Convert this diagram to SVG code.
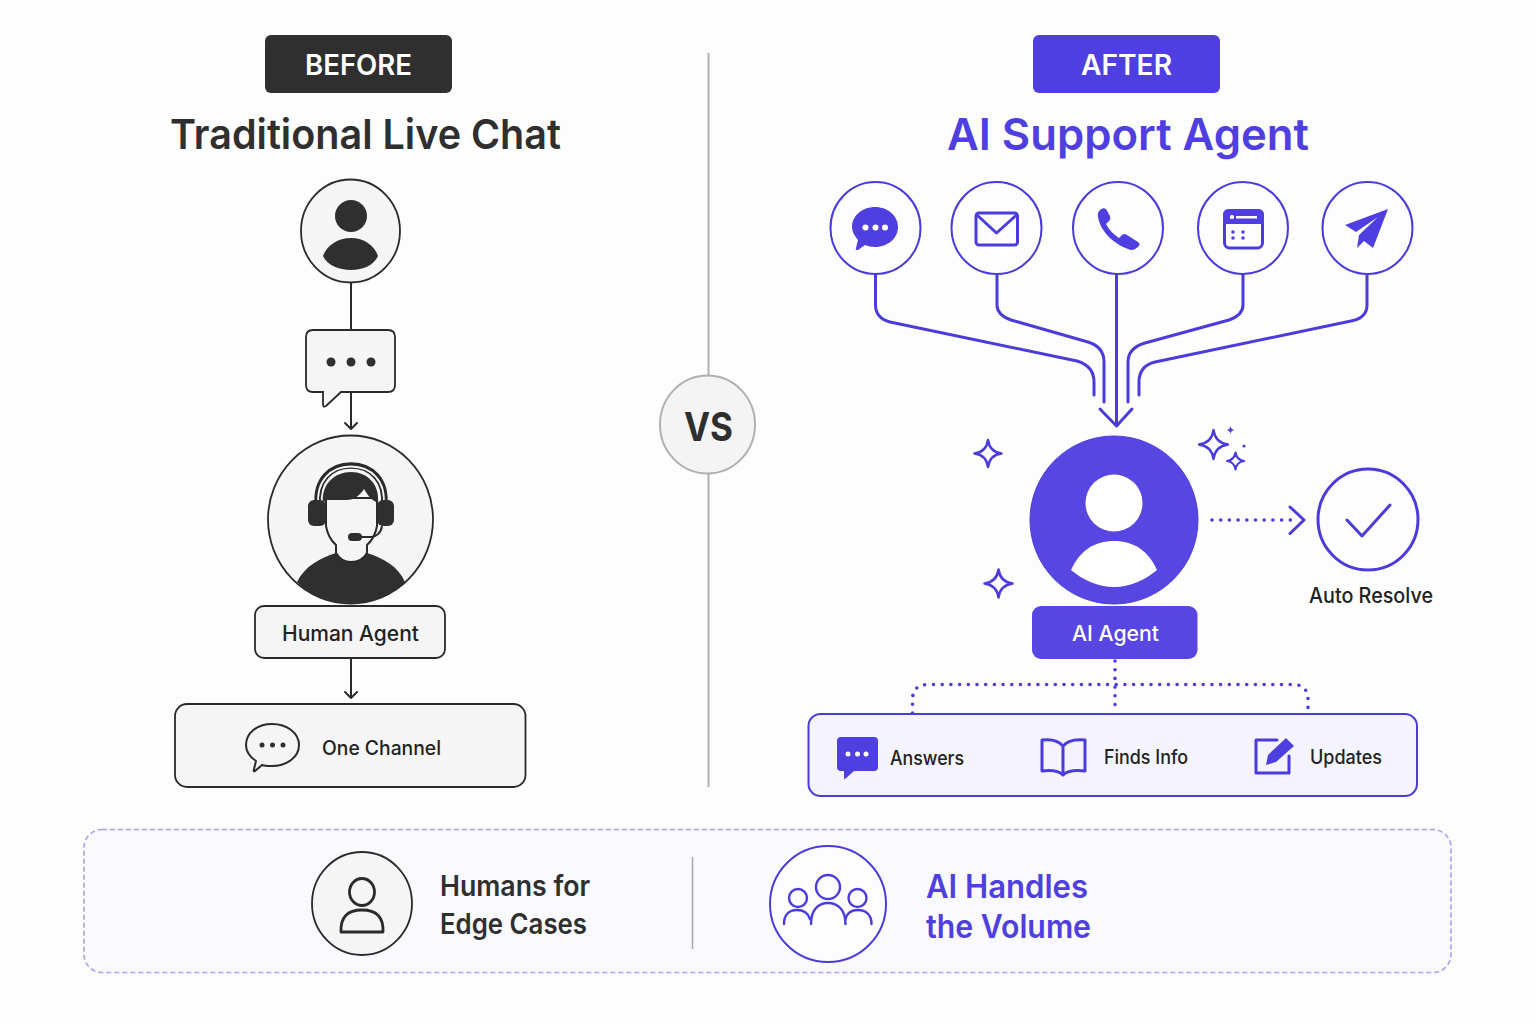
<svg xmlns="http://www.w3.org/2000/svg" width="1536" height="1024" viewBox="0 0 1536 1024">
<style>
text{font-family:"Inter","Liberation Sans",sans-serif;font-weight:500}
.dk{fill:#2f2f2f}.pu{fill:#4f3fe0}.wh{fill:#fff}
.lg{fill:#f5f5f5;stroke:#2a2a2a;stroke-width:1.8}
.wc{fill:#fdfdff;stroke:#4a3cdc;stroke-width:2}
.pl{fill:none;stroke:#4a3cdc;stroke-width:3;stroke-linecap:round;stroke-linejoin:round}
.dl{fill:none;stroke:#2a2a2a;stroke-width:2;stroke-linecap:round;stroke-linejoin:round}
.dot{fill:none;stroke:#4a3cdc;stroke-width:3.600;stroke-linecap:round;stroke-dasharray:0 8.7}
.star{fill:#fdfdff;stroke:#4a3cdc;stroke-width:2.4;stroke-linejoin:round}
.m{text-anchor:middle}
</style>
<defs>
<path id="star" d="M0 -1 Q0.12 -0.12 1 0 Q0.12 0.12 0 1 Q-0.12 0.12 -1 0 Q-0.12 -0.12 0 -1Z"/>
</defs>
<rect width="1536" height="1024" fill="#fdfdfe"/>

<g id="divider">
<path d="M708.5 53V375M708.5 474V787" stroke="#b0b0b0" stroke-width="2" fill="none"/>
</g>
<g id="vs">
<ellipse cx="707.5" cy="424.500" rx="47.500" ry="49" fill="#f4f4f4" stroke="#b0b0b0" stroke-width="2"/>
<text x="684" y="441" font-size="40" class="dk" textLength="49" lengthAdjust="spacingAndGlyphs" style="font-weight:700">VS</text>
</g>

<g id="before-header">
<rect x="265" y="35" width="187" height="58" rx="6" fill="#2f2f2f"/>
<text x="305" y="75" font-size="28" class="wh" textLength="107" lengthAdjust="spacingAndGlyphs" style="font-weight:600">BEFORE</text>
<text x="170" y="149" font-size="41" class="dk" textLength="391" lengthAdjust="spacingAndGlyphs" style="font-weight:600">Traditional Live Chat</text>
</g>
<g id="after-header">
<rect x="1033" y="35" width="187" height="58" rx="6" fill="#4f3fe0"/>
<text x="1081" y="75" font-size="28" class="wh" textLength="91" lengthAdjust="spacingAndGlyphs" style="font-weight:600">AFTER</text>
<text x="947" y="150" font-size="44" class="pu" textLength="362" lengthAdjust="spacingAndGlyphs" style="font-weight:600">AI Support Agent</text>
</g>

<g id="connectors">
<path class="dl" d="M351 283V330"/>
<path class="dl" d="M351 392V429M345 423L351 429L357 423"/>
<path class="dl" d="M351 658V698M345 692L351 698L357 692"/>
<path class="pl" d="M875.500 274V305Q875.500 318 890 322L1077 361Q1094 366 1094 382V395"/>
<path class="pl" d="M997 274V305Q997 315 1011 320L1088 342Q1104 347 1104 362V402"/>
<path class="pl" d="M1116.500 274V425M1100 409L1116.500 426L1132 409"/>
<path class="pl" d="M1243 274V305Q1243 315 1229 320L1145 343Q1128 348 1128 362V402"/>
<path class="pl" d="M1367 274V305Q1367 318 1351 321L1155 362Q1139 366 1139 382V395"/>
<path class="dot" d="M1212 520H1296"/>
<path class="pl" d="M1290 507L1304 520L1290 533.500"/>
<path class="dot" d="M1115 661V713M912.500 713V700Q912.500 684.500 928 684.500H1293Q1308 684.500 1308 700V713"/>
</g>

<g id="customer">
<ellipse class="lg" cx="350.500" cy="231" rx="49.500" ry="51.500"/>
<circle class="dk" cx="351" cy="216" r="16"/>
<path class="dk" d="M323 256C327 245 338 238 351 238C364 238 374 245 378 256C374 265 363 270 351 270C339 270 327 265 323 256Z"/>
</g>

<g id="message">
<path class="lg" d="M313 330H388Q395 330 395 337V385Q395 392 388 392H341L326 406Q323 408 323 404V392H313Q306 392 306 385V337Q306 330 313 330Z"/>
<circle class="dk" cx="331" cy="362" r="4.500"/><circle class="dk" cx="351" cy="362" r="4.500"/><circle class="dk" cx="371" cy="362" r="4.500"/>
</g>

<g id="human-agent">
<ellipse class="lg" cx="350.500" cy="519.500" rx="82.500" ry="84"/>
<path class="dk" d="M297 582C305 566 320 558 336 553C340 560 346 562 351 562C357 562 363 560 367 553C383 558 398 566 405 582C392 596 372 603 351 603C330 603 310 596 297 582Z"/>
<path fill="#f5f5f5" stroke="#2a2a2a" stroke-width="2" d="M326 498V526Q328 538 336 545V553C340 560 346 562 351 562C357 562 363 560 367 553V545Q375 538 377 526V498Z"/>
<path fill="none" stroke="#2a2a2a" stroke-width="6.500" d="M318 506C315 480 331 465.500 351 465.500C371 465.500 387 480 384 506"/>
<path fill="none" stroke="#f5f5f5" stroke-width="1.800" d="M318.500 506C315.500 481 331 466.500 351 466.500C371 466.500 386.500 481 383.500 506"/>
<path class="dk" d="M323 503C321 484 335 472 351 472C367 472 380 484 378 503L376 502C370 499 368 495 364 489C360 495 355 500 346 500H326Z"/>
<rect class="dk" x="308" y="500" width="18" height="26" rx="6"/>
<rect class="dk" x="377" y="500" width="17" height="26" rx="6"/>
<path fill="none" stroke="#2a2a2a" stroke-width="2" d="M382 526C381 533 376 537 371 537H358"/>
<rect class="dk" x="348" y="533" width="14" height="8" rx="4"/>
</g>

<g id="human-agent-label">
<rect class="lg" x="255" y="606" width="190" height="52" rx="9"/>
<text x="282" y="641" font-size="21" fill="#222" textLength="137" lengthAdjust="spacingAndGlyphs">Human Agent</text>
</g>

<g id="one-channel">
<rect class="lg" x="175" y="704" width="350.500" height="83" rx="12"/>
<path class="dl" d="M272 724C287 724 299 733 299 745C299 757 287 766 272 766C268 766 265 766 262 765L255 771Q253 772 254 769L256 761C250 757 246 752 246 745C246 733 257 724 272 724Z"/>
<circle class="dk" cx="262" cy="745" r="2.500"/><circle class="dk" cx="272.500" cy="745" r="2.500"/><circle class="dk" cx="283" cy="745" r="2.500"/>
<text x="322" y="755" font-size="20" fill="#222" textLength="119" lengthAdjust="spacingAndGlyphs">One Channel</text>
</g>

<g id="channel-chat">
<ellipse class="wc" cx="875.500" cy="228" rx="45" ry="46"/>
<path class="pu" d="M875 207C888 207 898 216 898 227C898 238 888 247 875 247C871 247 868 246 865 245L858 250Q855 250 856 248L858 240C855 236 852 232 852 227C852 216 862 207 875 207Z"/>
<circle class="wh" cx="865.500" cy="227.500" r="3"/><circle class="wh" cx="875.500" cy="227.500" r="3"/><circle class="wh" cx="885" cy="227.500" r="3"/>
</g>
<g id="channel-mail">
<ellipse class="wc" cx="996.500" cy="228" rx="45" ry="46"/>
<rect class="pl" x="976" y="213" width="41.500" height="32" rx="3"/>
<path class="pl" d="M977 215L996.500 233L1016.500 215"/>
</g>
<g id="channel-phone">
<ellipse class="wc" cx="1118" cy="228" rx="45" ry="46"/>
<path class="pu" d="M1100 210Q1103 207 1106 209L1110 216Q1111 219 1109 221L1106 224Q1110 232 1119 238L1122 235Q1124 233 1127 235L1138 242Q1141 244 1138 247L1135 249Q1132 251 1128 249C1112 243 1100 230 1098 217Q1097 213 1100 210Z"/>
</g>
<g id="channel-calendar">
<ellipse class="wc" cx="1243" cy="228" rx="45" ry="46"/>
<rect class="pl" x="1224.500" y="210.500" width="38" height="37.500" rx="5"/>
<path class="pu" d="M1229 209H1258Q1264 209 1264 215V224H1223V215Q1223 209 1229 209Z"/>
<rect class="wh" x="1230" y="215" width="4" height="4" rx="1.500"/><rect class="wh" x="1236" y="216" width="21" height="2.500"/>
<circle class="pu" cx="1233" cy="232" r="1.800"/><circle class="pu" cx="1243" cy="232" r="1.800"/><circle class="pu" cx="1233" cy="238" r="1.800"/><circle class="pu" cx="1243" cy="238" r="1.800"/>
</g>
<g id="channel-send">
<ellipse class="wc" cx="1367.500" cy="228" rx="45" ry="46"/>
<path class="pu" d="M1388 209L1345 225L1356 232L1378 217L1359 235L1357 248L1364 241L1373 248Z"/>
</g>

<g id="ai-agent">
<circle cx="1114" cy="520" r="84" fill="#5846e2" stroke="#4a3cdc" stroke-width="1"/>
<circle class="wh" cx="1114" cy="503" r="28.500"/>
<path class="wh" d="M1071 570C1080 550 1095 541 1114 541C1133 541 1148 550 1157 570C1145 580 1130 587 1114 587C1098 587 1083 580 1071 570Z"/>
</g>
<g id="sparkles">
<use href="#star" class="star" style="stroke-width:.18" transform="translate(988 453.500) scale(13.500)"/>
<use href="#star" class="star" style="stroke-width:.16" transform="translate(1213.500 444.500) scale(14.500)"/>
<use href="#star" class="star" style="stroke-width:.25" transform="translate(1235.500 461) scale(8.500)"/>
<use href="#star" class="star" style="stroke-width:.18" transform="translate(998.500 583.500) scale(14)"/>
<use href="#star" class="pu" transform="translate(1230.500 430) scale(4)"/>
<circle class="pu" cx="1244" cy="446" r="1.600"/>
</g>
<g id="ai-agent-label">
<rect class="pu" x="1032" y="606" width="165.500" height="53" rx="9" style="fill:#5846e2"/>
<text x="1072" y="641" font-size="21" class="wh" textLength="87" lengthAdjust="spacingAndGlyphs">AI Agent</text>
</g>

<g id="auto-resolve">
<ellipse cx="1368" cy="519.500" rx="50" ry="50.500" fill="#fdfdff" stroke="#4a3cdc" stroke-width="3"/>
<path class="pl" d="M1347 520L1362 536L1390 505"/>
<text x="1309" y="603" font-size="21" fill="#222" textLength="124" lengthAdjust="spacingAndGlyphs">Auto Resolve</text>
</g>

<g id="capabilities">
<rect x="808.500" y="714" width="608.500" height="82" rx="12" fill="#f5f4fe" stroke="#4a3cdc" stroke-width="2"/>
<path class="pu" d="M841 737H874Q878 737 878 741V767Q878 771 874 771H854L845 779Q844 780 844 777V771H841Q837 771 837 767V741Q837 737 841 737Z"/>
<circle class="wh" cx="848" cy="754" r="2.500"/><circle class="wh" cx="857.500" cy="754" r="2.500"/><circle class="wh" cx="866" cy="754" r="2.500"/>
<text x="890" y="765" font-size="19.500" fill="#222" textLength="74" lengthAdjust="spacingAndGlyphs">Answers</text>
<path class="pl" d="M1063 746C1058 740 1050 739 1042 740V771C1050 770 1058 770 1063 775C1068 770 1076 770 1085 771V740C1076 739 1068 740 1063 746V774"/>
<text x="1104" y="764" font-size="19.500" fill="#222" textLength="84" lengthAdjust="spacingAndGlyphs">Finds Info</text>
<path class="pl" d="M1277 740H1256V773H1289V756"/>
<path class="pu" d="M1266 765L1268 755L1286 738L1294 746L1276 762Z"/>
<text x="1310" y="764" font-size="19.500" fill="#222" textLength="72" lengthAdjust="spacingAndGlyphs">Updates</text>
</g>

<g id="summary">
<rect x="84" y="829.500" width="1367" height="143" rx="18" fill="#f9f9fe" stroke="#a9a2ee" stroke-width="1.600" stroke-dasharray="5 3"/>
<path d="M692.500 857V949" stroke="#a8a8a8" stroke-width="1.500"/>
</g>
<g id="humans-edge">
<ellipse class="lg" cx="362" cy="903.500" rx="50" ry="51.500"/>
<ellipse class="dl" style="stroke-width:2.800" cx="362" cy="892" rx="12.500" ry="13.500"/>
<path class="dl" style="stroke-width:2.800" d="M341 932Q340 910 362 910Q384 910 383 932Z"/>
<text x="440" y="896" font-size="28" class="dk" textLength="150" lengthAdjust="spacingAndGlyphs" style="font-weight:600">Humans for</text>
<text x="440" y="934" font-size="28" class="dk" textLength="147" lengthAdjust="spacingAndGlyphs" style="font-weight:600">Edge Cases</text>
</g>
<g id="ai-volume">
<circle cx="828" cy="904" r="58" fill="#fdfdff" stroke="#4a3cdc" stroke-width="2"/>
<ellipse class="pl" style="stroke-width:2.400" cx="828" cy="887" rx="12" ry="12"/>
<circle class="pl" style="stroke-width:2.400" cx="798" cy="898" r="9"/>
<circle class="pl" style="stroke-width:2.400" cx="857.500" cy="898" r="9"/>
<path class="pl" style="stroke-width:2.400" d="M811 924C811 910 818 903 828 903C838 903 845.500 910 845.500 924"/>
<path class="pl" style="stroke-width:2.400" d="M784 924C784 915 789 910 797 910C803 910 808 913 810 919"/>
<path class="pl" style="stroke-width:2.400" d="M871.500 924C871.500 915 866 910 858 910C852 910 847 913 845.500 919"/>
<text x="926" y="898" font-size="32" class="pu" textLength="162" lengthAdjust="spacingAndGlyphs" style="font-weight:600">AI Handles</text>
<text x="926" y="938" font-size="32" class="pu" textLength="165" lengthAdjust="spacingAndGlyphs" style="font-weight:600">the Volume</text>
</g>
</svg>
